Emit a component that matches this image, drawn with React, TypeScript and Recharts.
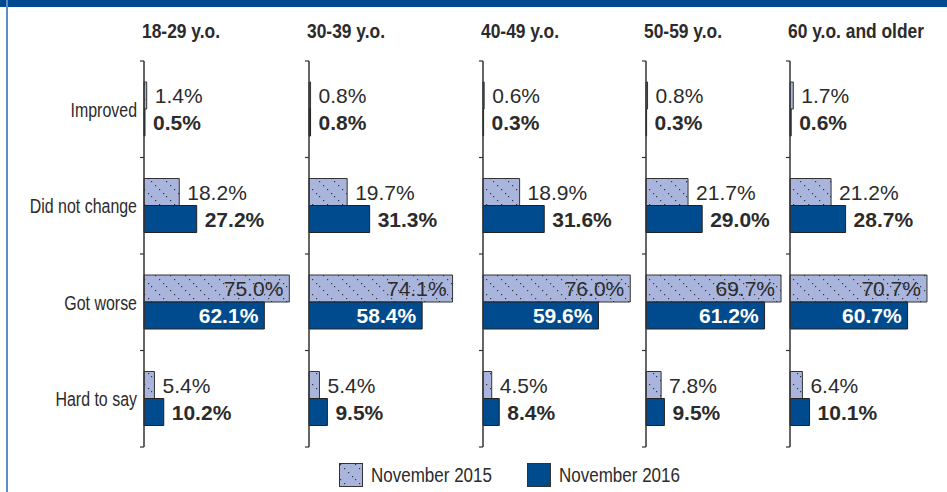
import { BarChart, Bar, XAxis, YAxis, LabelList } from 'recharts';

const categories = ['Improved', 'Did not change', 'Got worse', 'Hard to say'];
const ageGroups = ['18-29 y.o.', '30-39 y.o.', '40-49 y.o.', '50-59 y.o.', '60 y.o. and older'];
const seriesNames = ['November 2015', 'November 2016'];

// one row per age group, values in category order
const nov2015 = [
  [1.4, 18.2, 75.0, 5.4],
  [0.8, 19.7, 74.1, 5.4],
  [0.6, 18.9, 76.0, 4.5],
  [0.8, 21.7, 69.7, 7.8],
  [1.7, 21.2, 70.7, 6.4],
];
const nov2016 = [
  [0.5, 27.2, 62.1, 10.2],
  [0.8, 31.3, 58.4, 9.5],
  [0.3, 31.6, 59.6, 8.4],
  [0.3, 29.0, 61.2, 9.5],
  [0.6, 28.7, 60.7, 10.1],
];

const DARK = '#004b8d';
const LIGHT = '#a9b5dc';
const TEXT = '#2b2b2b';
const SANS = '"Liberation Sans", Arial, Helvetica, sans-serif';

const axisX = [144, 308.5, 483, 646, 790];
const PLOT_W = 155;
const CHART_H = 460;
const MARGIN_TOP = 61;
const MARGIN_BOTTOM = 13;
const HALF_BAND = (CHART_H - MARGIN_TOP - MARGIN_BOTTOM) / categories.length / 2;

function HatchPattern({ id }: { id: string }) {
  return (
    <pattern id={id} patternUnits="userSpaceOnUse" width="15" height="15">
      <rect width="15" height="15" fill={LIGHT} />
      <rect x="1" y="1" width="1.2" height="1.2" fill="#333" />
      <rect x="5" y="5" width="1.2" height="1.2" fill="#333" />
      <rect x="9" y="9" width="1.2" height="1.2" fill="#333" />
      <rect x="13" y="13" width="1.2" height="1.2" fill="#333" />
    </pattern>
  );
}

const makeLabel = (bold: boolean) => (props: any) => {
  const { x, y, width, height, value } = props;
  const inside = value > 40;
  const tx = inside ? x + width - 6 : x + width + 8;
  return (
    <text
      x={tx}
      y={y + height / 2}
      dy="0.36em"
      textAnchor={inside ? 'end' : 'start'}
      fill={inside && bold ? '#fff' : TEXT}
      fontWeight={bold ? 700 : 400}
      fontSize={21}
      fontFamily={SANS}
    >
      {Number(value).toFixed(1)}%
    </text>
  );
};

const makeTick = (showText: boolean) => (props: any) => {
  const { x, y, payload, index } = props;
  const half = payload && payload.offset ? payload.offset : HALF_BAND;
  return (
    <g>
      <line x1={x - 4} x2={x} y1={y - half} y2={y - half} stroke="#333" strokeWidth={1.2} />
      {index === categories.length - 1 && (
        <line x1={x - 4} x2={x} y1={y + half} y2={y + half} stroke="#333" strokeWidth={1.2} />
      )}
      {showText && (
        <text
          transform={`translate(${x - 7},${y}) scale(0.76,1)`}
          dy="0.35em"
          textAnchor="end"
          fill={TEXT}
          fontSize={21}
          fontFamily={SANS}
        >
          {payload.value}
        </text>
      )}
    </g>
  );
};

function Panel({ index }: { index: number }) {
  const rows = categories.map((c, j) => ({
    category: c,
    v2015: nov2015[index][j],
    v2016: nov2016[index][j],
  }));
  const yw = index === 0 ? axisX[0] : 6;
  const patId = `hatch-${index}`;
  return (
    <div style={{ position: 'absolute', left: axisX[index] - yw, top: 0 }}>
      <BarChart
        layout="vertical"
        width={yw + PLOT_W}
        height={CHART_H}
        data={rows}
        margin={{ top: MARGIN_TOP, right: 0, bottom: MARGIN_BOTTOM, left: 0 }}
        barGap={0}
        barSize={27}
      >
        <defs>
          <HatchPattern id={patId} />
        </defs>
        <XAxis type="number" domain={[0, 80]} hide />
        <YAxis
          type="category"
          dataKey="category"
          width={yw}
          axisLine={{ stroke: '#333', strokeWidth: 1.5 }}
          tickLine={false}
          tickSize={0}
          tickMargin={0}
          interval={0}
          tick={makeTick(index === 0)}
        />
        <Bar dataKey="v2015" name={seriesNames[0]} fill={`url(#${patId})`} stroke="#333" strokeWidth={1} isAnimationActive={false}>
          <LabelList dataKey="v2015" content={makeLabel(false)} />
        </Bar>
        <Bar dataKey="v2016" name={seriesNames[1]} fill={DARK} stroke="#222" strokeWidth={1} isAnimationActive={false}>
          <LabelList dataKey="v2016" content={makeLabel(true)} />
        </Bar>
      </BarChart>
    </div>
  );
}

const legendX = [339, 527];

export default function App() {
  return (
    <div style={{ position: 'absolute', left: 0, top: 0, width: 947, height: 492, background: '#fff', overflow: 'hidden' }}>
      <div style={{ position: 'absolute', left: 0, top: 0, width: 947, height: 7, background: '#004b8f' }} />
      <div style={{ position: 'absolute', left: 6, top: 0, width: 2, height: 492, background: '#5b8bc9' }} />
      {ageGroups.map((g, i) => (
        <div
          key={g}
          style={{
            position: 'absolute',
            left: axisX[i] - 2,
            top: 21,
            fontFamily: SANS,
            fontWeight: 700,
            fontSize: 20,
            lineHeight: '21px',
            color: TEXT,
            whiteSpace: 'nowrap',
            transform: 'scaleX(0.87)',
            transformOrigin: 'left center',
          }}
        >
          {g}
        </div>
      ))}
      {ageGroups.map((g, i) => (
        <Panel key={g} index={i} />
      ))}
      {seriesNames.map((s, k) => (
        <div key={s} style={{ position: 'absolute', left: legendX[k], top: 463, display: 'flex', alignItems: 'center' }}>
          <svg width={24} height={24} style={{ display: 'block' }}>
            <defs>
              <HatchPattern id={`hatch-legend-${k}`} />
            </defs>
            <rect x={0.5} y={0.5} width={23} height={23} fill={k === 0 ? `url(#hatch-legend-${k})` : DARK} stroke="#333" strokeWidth={1} />
          </svg>
          <span
            style={{
              marginLeft: 8,
              lineHeight: '24px',
              fontFamily: SANS,
              fontSize: 20,
              color: TEXT,
              whiteSpace: 'nowrap',
              transform: 'scaleX(0.85)',
              transformOrigin: 'left center',
              display: 'inline-block',
            }}
          >
            {s}
          </span>
        </div>
      ))}
    </div>
  );
}
